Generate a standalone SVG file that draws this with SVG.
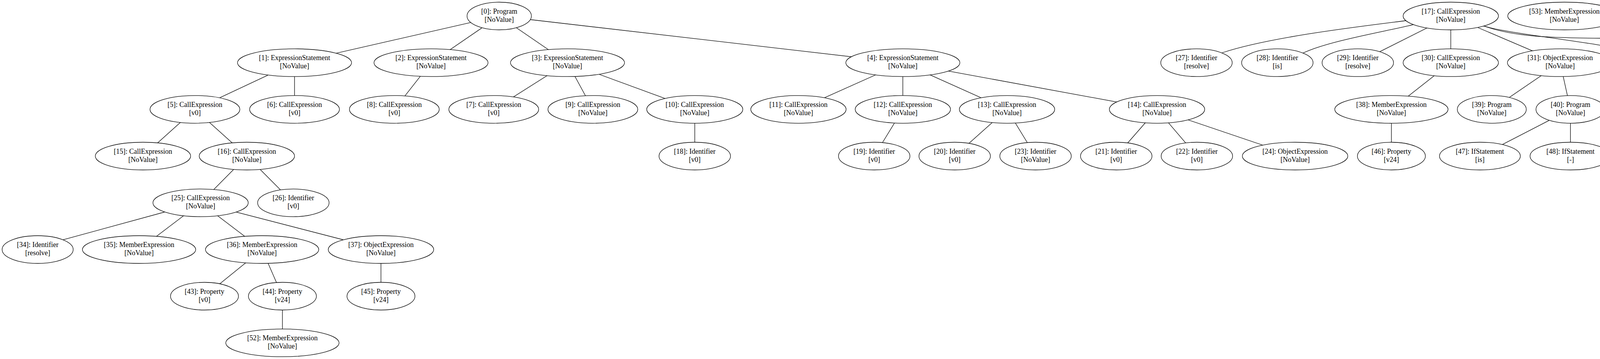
<svg xmlns="http://www.w3.org/2000/svg" width="4882" height="920" viewBox="0 0 4882 920">
<style>
.n ellipse{fill:#fff;stroke:#000;stroke-width:1.3}
.n text{font-family:"Liberation Serif","Times New Roman",serif;font-size:18px;text-anchor:middle;fill:#000}
#edges line,#edges path{stroke:#000;stroke-width:1.3;fill:none}
</style>
<rect x="0" y="0" width="4882" height="920" fill="#fff"/>
<g id="edges">
<line x1="1278" y1="41" x2="754" y2="160.7"/>
<line x1="1278" y1="41" x2="1103.4" y2="160.7"/>
<line x1="1278" y1="41" x2="1452.8" y2="160.7"/>
<line x1="1278" y1="41" x2="2311.3" y2="160.7"/>
<line x1="754" y1="160.7" x2="499" y2="280.3"/>
<line x1="754" y1="160.7" x2="754" y2="280.3"/>
<line x1="1103.4" y1="160.7" x2="1009.5" y2="280.3"/>
<line x1="1452.8" y1="160.7" x2="1264" y2="280.3"/>
<line x1="1452.8" y1="160.7" x2="1517.7" y2="280.3"/>
<line x1="1452.8" y1="160.7" x2="1778.6" y2="280.3"/>
<line x1="2311.3" y1="160.7" x2="2044" y2="280.3"/>
<line x1="2311.3" y1="160.7" x2="2311.3" y2="280.3"/>
<line x1="2311.3" y1="160.7" x2="2578" y2="280.3"/>
<line x1="2311.3" y1="160.7" x2="2962" y2="280.3"/>
<line x1="499" y1="280.3" x2="366" y2="400"/>
<line x1="499" y1="280.3" x2="632" y2="400"/>
<line x1="1778.6" y1="280.3" x2="1778.6" y2="400"/>
<line x1="2311.3" y1="280.3" x2="2238" y2="400"/>
<line x1="2578" y1="280.3" x2="2444" y2="400"/>
<line x1="2578" y1="280.3" x2="2651" y2="400"/>
<line x1="2962" y1="280.3" x2="2857.6" y2="400"/>
<line x1="2962" y1="280.3" x2="3064" y2="400"/>
<line x1="2962" y1="280.3" x2="3315.4" y2="400"/>
<line x1="632" y1="400" x2="513.5" y2="519.8"/>
<line x1="632" y1="400" x2="751" y2="519.8"/>
<path d="M3605,52 L3591,54 C3480,68 3250,95 3129.5,135 L3118,142"/>
<path d="M3625,61 L3617,63.3 C3550,80 3400,105 3335.7,136 L3326,141"/>
<line x1="3714" y1="41" x2="3476" y2="160.7"/>
<line x1="3714" y1="41" x2="3714" y2="160.7"/>
<line x1="3714" y1="41" x2="3994" y2="160.7"/>
<path d="M3790,64.5 L3802,67.7 C3870,88 4090,108 4190,135 L4200,138"/>
<path d="M3790,64.5 L3802,67.7 C3870,92 3950,97 4100,98 C4250,99 4380,110 4475,135 L4485,139"/>
<path d="M444.7,537 L140.7,620.2"/>
<line x1="513.5" y1="519.8" x2="356" y2="639.5"/>
<line x1="513.5" y1="519.8" x2="671" y2="639.5"/>
<line x1="513.5" y1="519.8" x2="975.3" y2="639.5"/>
<line x1="3714" y1="160.7" x2="3562" y2="280.3"/>
<line x1="3994" y1="160.7" x2="3819" y2="280.3"/>
<line x1="3994" y1="160.7" x2="4020.4" y2="280.3"/>
<line x1="4287.3" y1="160.7" x2="4287.3" y2="280.3"/>
<line x1="4287.3" y1="160.7" x2="4487" y2="280.3"/>
<line x1="671" y1="639.5" x2="523.5" y2="759"/>
<line x1="671" y1="639.5" x2="723" y2="759"/>
<line x1="975.3" y1="639.5" x2="975.3" y2="759"/>
<line x1="3562" y1="280.3" x2="3562" y2="400"/>
<line x1="4020.4" y1="280.3" x2="3788.6" y2="400"/>
<line x1="4020.4" y1="280.3" x2="4020.4" y2="400"/>
<line x1="4287.3" y1="280.3" x2="4261.5" y2="400"/>
<line x1="4287.3" y1="280.3" x2="4512" y2="400"/>
<path d="M4343,302 L4351.4,305.7 C4420,335 4600,350 4681.7,374.3 L4692,378"/>
<line x1="723" y1="759" x2="723" y2="878.7"/>
</g>
<g id="node0" class="n"><ellipse cx="1278" cy="41" rx="82.4" ry="35.5"/><text x="1278" y="34.5">[0]: Program</text><text x="1278" y="55.5">[NoValue]</text></g>
<g id="node1" class="n"><ellipse cx="754" cy="160.7" rx="146" ry="35.5"/><text x="754" y="154.2">[1]: ExpressionStatement</text><text x="754" y="175.2">[NoValue]</text></g>
<g id="node2" class="n"><ellipse cx="1103.4" cy="160.7" rx="146" ry="35.5"/><text x="1103.4" y="154.2">[2]: ExpressionStatement</text><text x="1103.4" y="175.2">[NoValue]</text></g>
<g id="node3" class="n"><ellipse cx="1452.8" cy="160.7" rx="146" ry="35.5"/><text x="1452.8" y="154.2">[3]: ExpressionStatement</text><text x="1452.8" y="175.2">[NoValue]</text></g>
<g id="node4" class="n"><ellipse cx="2311.3" cy="160.7" rx="146" ry="35.5"/><text x="2311.3" y="154.2">[4]: ExpressionStatement</text><text x="2311.3" y="175.2">[NoValue]</text></g>
<g id="node5" class="n"><ellipse cx="499" cy="280.3" rx="115" ry="35.5"/><text x="499" y="273.8">[5]: CallExpression</text><text x="499" y="294.8">[v0]</text></g>
<g id="node6" class="n"><ellipse cx="754" cy="280.3" rx="115" ry="35.5"/><text x="754" y="273.8">[6]: CallExpression</text><text x="754" y="294.8">[v0]</text></g>
<g id="node7" class="n"><ellipse cx="1264" cy="280.3" rx="115" ry="35.5"/><text x="1264" y="273.8">[7]: CallExpression</text><text x="1264" y="294.8">[v0]</text></g>
<g id="node8" class="n"><ellipse cx="1009.5" cy="280.3" rx="115" ry="35.5"/><text x="1009.5" y="273.8">[8]: CallExpression</text><text x="1009.5" y="294.8">[v0]</text></g>
<g id="node9" class="n"><ellipse cx="1517.7" cy="280.3" rx="115" ry="35.5"/><text x="1517.7" y="273.8">[9]: CallExpression</text><text x="1517.7" y="294.8">[NoValue]</text></g>
<g id="node10" class="n"><ellipse cx="1778.6" cy="280.3" rx="123" ry="35.5"/><text x="1778.6" y="273.8">[10]: CallExpression</text><text x="1778.6" y="294.8">[NoValue]</text></g>
<g id="node11" class="n"><ellipse cx="2044" cy="280.3" rx="122" ry="35.5"/><text x="2044" y="273.8">[11]: CallExpression</text><text x="2044" y="294.8">[NoValue]</text></g>
<g id="node12" class="n"><ellipse cx="2311.3" cy="280.3" rx="122" ry="35.5"/><text x="2311.3" y="273.8">[12]: CallExpression</text><text x="2311.3" y="294.8">[NoValue]</text></g>
<g id="node13" class="n"><ellipse cx="2578" cy="280.3" rx="122" ry="35.5"/><text x="2578" y="273.8">[13]: CallExpression</text><text x="2578" y="294.8">[NoValue]</text></g>
<g id="node14" class="n"><ellipse cx="2962" cy="280.3" rx="122" ry="35.5"/><text x="2962" y="273.8">[14]: CallExpression</text><text x="2962" y="294.8">[NoValue]</text></g>
<g id="node15" class="n"><ellipse cx="366" cy="400" rx="122" ry="35.5"/><text x="366" y="393.5">[15]: CallExpression</text><text x="366" y="414.5">[NoValue]</text></g>
<g id="node16" class="n"><ellipse cx="632" cy="400" rx="122" ry="35.5"/><text x="632" y="393.5">[16]: CallExpression</text><text x="632" y="414.5">[NoValue]</text></g>
<g id="node17" class="n"><ellipse cx="3714" cy="41" rx="122" ry="35.5"/><text x="3714" y="34.5">[17]: CallExpression</text><text x="3714" y="55.5">[NoValue]</text></g>
<g id="node18" class="n"><ellipse cx="1778.6" cy="400" rx="91.5" ry="35.5"/><text x="1778.6" y="393.5">[18]: Identifier</text><text x="1778.6" y="414.5">[v0]</text></g>
<g id="node19" class="n"><ellipse cx="2238" cy="400" rx="91.5" ry="35.5"/><text x="2238" y="393.5">[19]: Identifier</text><text x="2238" y="414.5">[v0]</text></g>
<g id="node20" class="n"><ellipse cx="2444" cy="400" rx="91.5" ry="35.5"/><text x="2444" y="393.5">[20]: Identifier</text><text x="2444" y="414.5">[v0]</text></g>
<g id="node21" class="n"><ellipse cx="2857.6" cy="400" rx="91.5" ry="35.5"/><text x="2857.6" y="393.5">[21]: Identifier</text><text x="2857.6" y="414.5">[v0]</text></g>
<g id="node22" class="n"><ellipse cx="3064" cy="400" rx="91.5" ry="35.5"/><text x="3064" y="393.5">[22]: Identifier</text><text x="3064" y="414.5">[v0]</text></g>
<g id="node23" class="n"><ellipse cx="2651" cy="400" rx="91.5" ry="35.5"/><text x="2651" y="393.5">[23]: Identifier</text><text x="2651" y="414.5">[NoValue]</text></g>
<g id="node24" class="n"><ellipse cx="3315.4" cy="400" rx="135" ry="35.5"/><text x="3315.4" y="393.5">[24]: ObjectExpression</text><text x="3315.4" y="414.5">[NoValue]</text></g>
<g id="node25" class="n"><ellipse cx="513.5" cy="519.8" rx="122" ry="35.5"/><text x="513.5" y="513.3">[25]: CallExpression</text><text x="513.5" y="534.3">[NoValue]</text></g>
<g id="node26" class="n"><ellipse cx="751" cy="519.8" rx="91.5" ry="35.5"/><text x="751" y="513.3">[26]: Identifier</text><text x="751" y="534.3">[v0]</text></g>
<g id="node27" class="n"><ellipse cx="3063" cy="160.7" rx="91.5" ry="35.5"/><text x="3063" y="154.2">[27]: Identifier</text><text x="3063" y="175.2">[resolve]</text></g>
<g id="node28" class="n"><ellipse cx="3270" cy="160.7" rx="91.5" ry="35.5"/><text x="3270" y="154.2">[28]: Identifier</text><text x="3270" y="175.2">[is]</text></g>
<g id="node29" class="n"><ellipse cx="3476" cy="160.7" rx="91.5" ry="35.5"/><text x="3476" y="154.2">[29]: Identifier</text><text x="3476" y="175.2">[resolve]</text></g>
<g id="node30" class="n"><ellipse cx="3714" cy="160.7" rx="122" ry="35.5"/><text x="3714" y="154.2">[30]: CallExpression</text><text x="3714" y="175.2">[NoValue]</text></g>
<g id="node31" class="n"><ellipse cx="3994" cy="160.7" rx="135" ry="35.5"/><text x="3994" y="154.2">[31]: ObjectExpression</text><text x="3994" y="175.2">[NoValue]</text></g>
<g id="node32" class="n"><ellipse cx="4287.3" cy="160.7" rx="135" ry="35.5"/><text x="4287.3" y="154.2">[32]: ObjectExpression</text><text x="4287.3" y="175.2">[NoValue]</text></g>
<g id="node33" class="n"><ellipse cx="4537.6" cy="160.7" rx="92" ry="35.5"/><text x="4537.6" y="154.2">[33]: Identifier</text><text x="4537.6" y="175.2">[is]</text></g>
<g id="node34" class="n"><ellipse cx="96.4" cy="639.5" rx="91" ry="35.5"/><text x="96.4" y="633">[34]: Identifier</text><text x="96.4" y="654">[resolve]</text></g>
<g id="node35" class="n"><ellipse cx="356" cy="639.5" rx="145" ry="35.5"/><text x="356" y="633">[35]: MemberExpression</text><text x="356" y="654">[NoValue]</text></g>
<g id="node36" class="n"><ellipse cx="671" cy="639.5" rx="145" ry="35.5"/><text x="671" y="633">[36]: MemberExpression</text><text x="671" y="654">[NoValue]</text></g>
<g id="node37" class="n"><ellipse cx="975.3" cy="639.5" rx="135" ry="35.5"/><text x="975.3" y="633">[37]: ObjectExpression</text><text x="975.3" y="654">[NoValue]</text></g>
<g id="node38" class="n"><ellipse cx="3562" cy="280.3" rx="145" ry="35.5"/><text x="3562" y="273.8">[38]: MemberExpression</text><text x="3562" y="294.8">[NoValue]</text></g>
<g id="node39" class="n"><ellipse cx="3819" cy="280.3" rx="88.3" ry="35.5"/><text x="3819" y="273.8">[39]: Program</text><text x="3819" y="294.8">[NoValue]</text></g>
<g id="node40" class="n"><ellipse cx="4020.4" cy="280.3" rx="88.3" ry="35.5"/><text x="4020.4" y="273.8">[40]: Program</text><text x="4020.4" y="294.8">[NoValue]</text></g>
<g id="node41" class="n"><ellipse cx="4287.3" cy="280.3" rx="88.3" ry="35.5"/><text x="4287.3" y="273.8">[41]: Program</text><text x="4287.3" y="294.8">[NoValue]</text></g>
<g id="node42" class="n"><ellipse cx="4487" cy="280.3" rx="87" ry="35.5"/><text x="4487" y="273.8">[42]: Property</text><text x="4487" y="294.8">[resolve]</text></g>
<g id="node43" class="n"><ellipse cx="523.5" cy="759" rx="87" ry="35.5"/><text x="523.5" y="752.5">[43]: Property</text><text x="523.5" y="773.5">[v0]</text></g>
<g id="node44" class="n"><ellipse cx="723" cy="759" rx="87" ry="35.5"/><text x="723" y="752.5">[44]: Property</text><text x="723" y="773.5">[v24]</text></g>
<g id="node45" class="n"><ellipse cx="975.3" cy="759" rx="87" ry="35.5"/><text x="975.3" y="752.5">[45]: Property</text><text x="975.3" y="773.5">[v24]</text></g>
<g id="node46" class="n"><ellipse cx="3562" cy="400" rx="87" ry="35.5"/><text x="3562" y="393.5">[46]: Property</text><text x="3562" y="414.5">[v24]</text></g>
<g id="node47" class="n"><ellipse cx="3788.6" cy="400" rx="103.5" ry="35.5"/><text x="3788.6" y="393.5">[47]: IfStatement</text><text x="3788.6" y="414.5">[is]</text></g>
<g id="node48" class="n"><ellipse cx="4020.4" cy="400" rx="103.5" ry="35.5"/><text x="4020.4" y="393.5">[48]: IfStatement</text><text x="4020.4" y="414.5">[-]</text></g>
<g id="node49" class="n"><ellipse cx="4261.5" cy="400" rx="113" ry="35.5"/><text x="4261.5" y="393.5">[49]: ForStatement</text><text x="4261.5" y="414.5">[NoValue]</text></g>
<g id="node50" class="n"><ellipse cx="4512" cy="400" rx="113" ry="35.5"/><text x="4512" y="393.5">[50]: ForStatement</text><text x="4512" y="414.5">[NoValue]</text></g>
<g id="node51" class="n"><ellipse cx="4762.7" cy="400" rx="113" ry="35.5"/><text x="4762.7" y="393.5">[51]: ForStatement</text><text x="4762.7" y="414.5">[NoValue]</text></g>
<g id="node52" class="n"><ellipse cx="723" cy="878.7" rx="145" ry="35.5"/><text x="723" y="872.2">[52]: MemberExpression</text><text x="723" y="893.2">[NoValue]</text></g>
<g id="node53" class="n"><ellipse cx="4004.8" cy="41" rx="145" ry="35.5"/><text x="4004.8" y="34.5">[53]: MemberExpression</text><text x="4004.8" y="55.5">[NoValue]</text></g>
<g id="node54" class="n"><ellipse cx="4264.7" cy="41" rx="92" ry="35.5"/><text x="4264.7" y="34.5">[54]: Identifier</text><text x="4264.7" y="55.5">[resolve]</text></g>
</svg>
